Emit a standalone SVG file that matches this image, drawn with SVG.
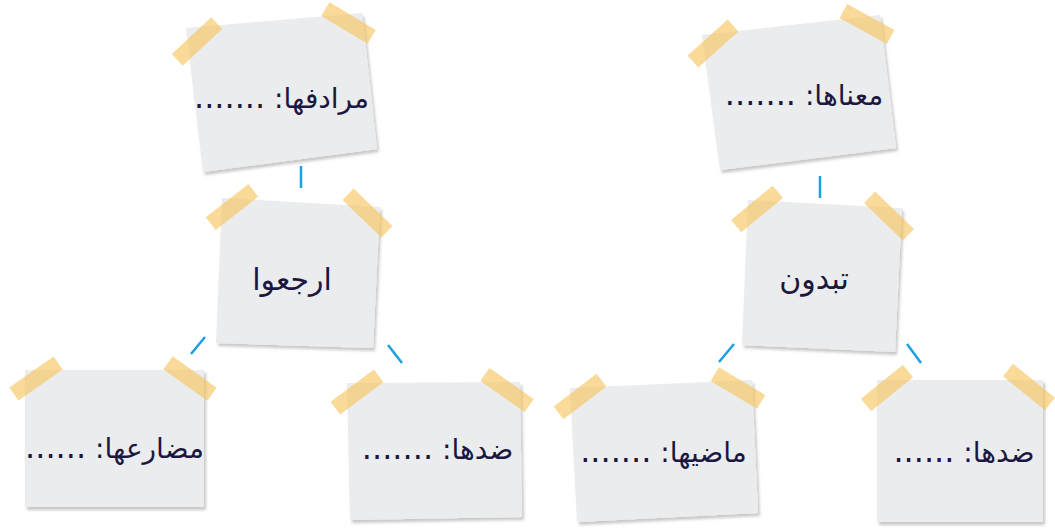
<svg xmlns="http://www.w3.org/2000/svg" xmlns:xlink="http://www.w3.org/1999/xlink" width="1055" height="528" viewBox="0 0 1055 528">
<style>
.note{fill:#ebeced;filter:url(#sh)}
.tape{fill:#f7c35a;fill-opacity:0.62}
.lbl{font-family:"DejaVu Sans","Liberation Sans",sans-serif;font-size:28px;fill:#1b1740;text-anchor:middle;direction:rtl}
.d{font-size:32px}
.big{font-size:30px}
.con line{stroke:#1ba1e2;stroke-width:2.5;stroke-linecap:butt}
</style>
<defs>
<filter id="sh" x="-10%" y="-10%" width="120%" height="125%">
<feDropShadow dx="2" dy="3" stdDeviation="1.8" flood-color="#000" flood-opacity="0.22"/>
</filter>
<rect id="tape" x="-27" y="-8" width="54" height="16"/>
</defs>
<rect width="1055" height="528" fill="#fff"/>
<g class="con" id="connectors">
<line x1="301" y1="166" x2="301" y2="188"/>
<line x1="205" y1="337" x2="191" y2="354"/>
<line x1="388" y1="345" x2="402" y2="363"/>
<line x1="820" y1="176" x2="820" y2="198"/>
<line x1="734" y1="344" x2="719" y2="362"/>
<line x1="907" y1="344" x2="921" y2="363"/>
</g>
<g id="n1">
<polygon class="note" points="186,28 362,13 377,149 203,172"/>
<text class="lbl" x="281.5" y="108">مرادفها: <tspan class="d">.......</tspan></text>
<use href="#tape" class="tape" transform="translate(197,41.5) rotate(-43)"/>
<use href="#tape" class="tape" transform="translate(348.5,23) rotate(31)"/>
</g>
<g id="n2">
<polygon class="note" points="222,198 380,207 373,348 216,343"/>
<text class="lbl big" x="292" y="290">ارجعوا</text>
<use href="#tape" class="tape" transform="translate(232,207) rotate(-38)"/>
<use href="#tape" class="tape" transform="translate(367.5,213) rotate(44)"/>
</g>
<g id="n3">
<polygon class="note" points="25,370 204,370 204,507 25,507"/>
<text class="lbl" x="114.5" y="458">مضارعها: <tspan class="d">......</tspan></text>
<use href="#tape" class="tape" transform="translate(36,378.5) rotate(-35)"/>
<use href="#tape" class="tape" transform="translate(190,378.5) rotate(35.6)"/>
</g>
<g id="n4">
<polygon class="note" points="347,383 520,382 522,517 350,520"/>
<text class="lbl" x="437.5" y="459">ضدها: <tspan class="d">.......</tspan></text>
<use href="#tape" class="tape" transform="translate(357,392) rotate(-36.6)"/>
<use href="#tape" class="tape" transform="translate(507,390) rotate(35)"/>
</g>
<g id="n5">
<polygon class="note" points="702,35 880,15 896,148 720,170"/>
<text class="lbl" x="804" y="105">معناها: <tspan class="d">.......</tspan></text>
<use href="#tape" class="tape" transform="translate(713,43.5) rotate(-42)"/>
<use href="#tape" class="tape" transform="translate(867,24) rotate(29)"/>
</g>
<g id="n6">
<polygon class="note" points="748,200 902,208 895,352 742,345"/>
<text class="lbl big" x="814" y="289">تبدون</text>
<use href="#tape" class="tape" transform="translate(757,209) rotate(-39.5)"/>
<use href="#tape" class="tape" transform="translate(889,216) rotate(44)"/>
</g>
<g id="n7">
<polygon class="note" points="570,388 752,380 758,513 577,522"/>
<text class="lbl" x="663.5" y="462">ماضيها: <tspan class="d">.......</tspan></text>
<use href="#tape" class="tape" transform="translate(580,396.5) rotate(-37.5)"/>
<use href="#tape" class="tape" transform="translate(738,388) rotate(31)"/>
</g>
<g id="n8">
<polygon class="note" points="877,380 1043,380 1043,522 877,522"/>
<text class="lbl" x="964" y="462">ضدها: <tspan class="d">......</tspan></text>
<use href="#tape" class="tape" transform="translate(887,388) rotate(-39)"/>
<use href="#tape" class="tape" transform="translate(1029,387) rotate(39)"/>
</g>
</svg>
